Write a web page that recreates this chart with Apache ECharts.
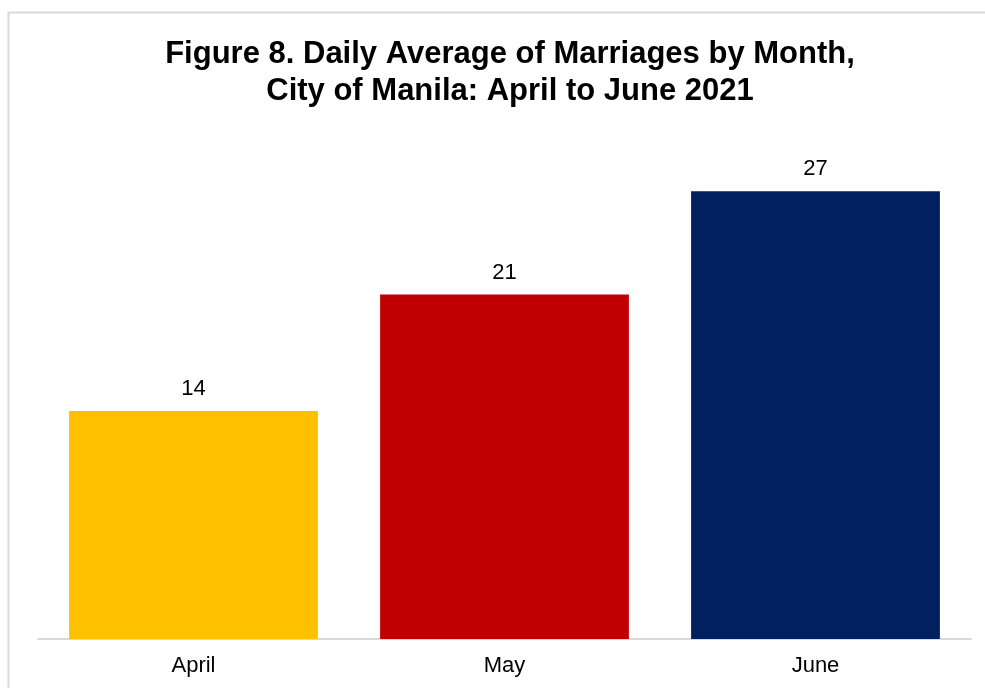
<!DOCTYPE html>
<html>
<head>
<meta charset="utf-8">
<title>Daily Average of Marriages</title>
<script src="https://cdn.jsdelivr.net/npm/echarts@6/dist/echarts.min.js"></script>
<style>
    html, body { margin: 0; padding: 0; background: #fff; }
    #chart { width: 985px; height: 688px; }
</style>
</head>
<body>
<div id="chart"></div>
<script>
    // data
    var months = ['April', 'May', 'June'];
    var dailyAvg = [13.9, 21.0, 27.3];
    var barColors = ['#ffc000', '#c00000', '#002060'];

    var myChart = echarts.init(document.getElementById('chart'));
    myChart.setOption({
        animation: false,
        backgroundColor: '#fff',
        title: {
            text: 'Figure 8. Daily Average of Marriages by Month,\nCity of Manila: April to June 2021',
            left: 505,
            textAlign: 'center',
            top: 31,
            textStyle: {
                fontFamily: 'Liberation Sans, Arial',
                fontSize: 31,
                fontWeight: 'bold',
                color: '#000',
                lineHeight: 37
            }
        },
        graphic: [{
            type: 'rect',
            shape: { x: 8.5, y: 12.5, width: 1000, height: 700 },
            style: { fill: 'none', stroke: '#d9d9d9', lineWidth: 2 }
        }],
        grid: { left: 38, right: 14, top: 147, bottom: 49 },
        xAxis: {
            type: 'category',
            data: months,
            axisLine: { lineStyle: { color: '#d9d9d9', width: 2 } },
            axisTick: { show: false },
            axisLabel: {
                margin: 16,
                fontFamily: 'Liberation Sans, Arial',
                fontSize: 22,
                color: '#000'
            }
        },
        yAxis: {
            type: 'value',
            min: 0,
            max: 30,
            show: false,
            splitLine: { show: false }
        },
        series: [{
            name: 'Daily average',
            type: 'bar',
            barCategoryGap: '20%',
            data: dailyAvg.map(function (v, i) {
                return { value: v, itemStyle: { color: barColors[i] } };
            }),
            label: {
                show: true,
                position: 'top',
                distance: 11,
                fontFamily: 'Liberation Sans, Arial',
                fontSize: 22,
                color: '#000',
                formatter: function (p) { return Math.round(p.value); }
            }
        }]
    });
</script>
</body>
</html>
